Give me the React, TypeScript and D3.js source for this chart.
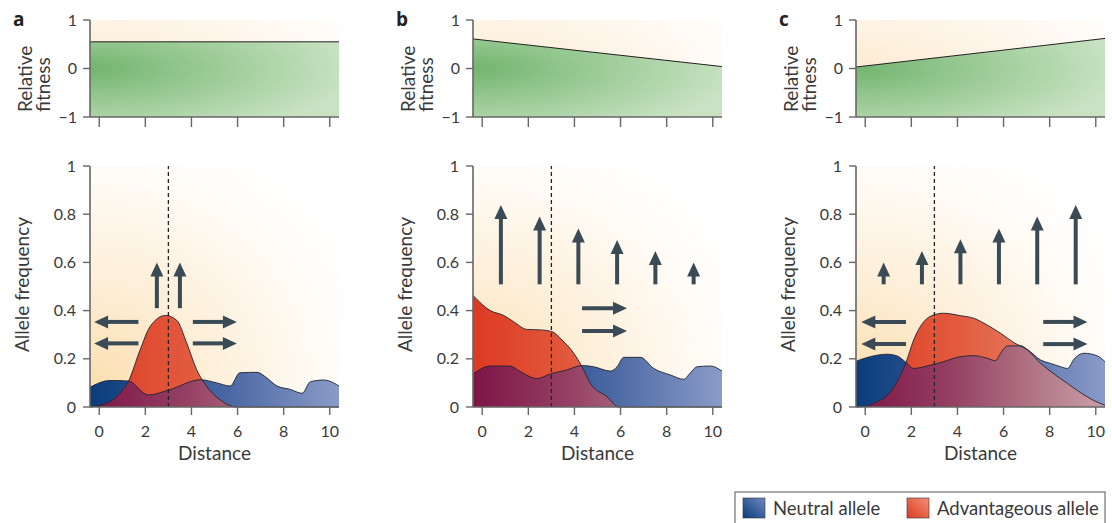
import React from 'react';
import * as d3 from 'd3';

// axis ticks
const distTicks = [0, 2, 4, 6, 8, 10];
const freqTicks = [0, 0.2, 0.4, 0.6, 0.8, 1];
const fitTicks = [-1, 0, 1];
const panelLabels = ['a', 'b', 'c'];

// relative fitness at the left and right ends of the range
const fitnessA = [0.55, 0.55];
const fitnessB = [0.61, 0.04];
const fitnessC = [0.03, 0.62];

// panel a: allele frequencies along distance
const neutralAX = [-0.4, 0.46, 1.26, 2.13, 3, 4.4, 5.1, 5.68, 6.1, 6.84, 7.28, 7.71, 8.29, 8.8, 9.16, 9.74, 10.17, 10.4];
const neutralAY = [0.082, 0.11, 0.108, 0.05, 0.07, 0.113, 0.1, 0.087, 0.142, 0.144, 0.12, 0.087, 0.073, 0.057, 0.105, 0.112, 0.1, 0.087];
const advantAX = [-0.4, 0.46, 0.9, 1.26, 1.77, 2.2, 2.88, 3.36, 3.8, 4.23, 4.67, 5.25, 5.97, 10.4];
const advantAY = [0, 0.022, 0.057, 0.105, 0.236, 0.333, 0.38, 0.36, 0.264, 0.154, 0.084, 0.029, 0, 0];

// panel b
const neutralBX = [-0.4, 0.35, 1.2, 1.65, 2.37, 2.95, 3.67, 4.33, 4.83, 5.56, 5.85, 6.14, 6.86, 7.44, 8.16, 8.74, 9.03, 9.32, 9.9, 10.4];
const neutralBY = [0.137, 0.17, 0.17, 0.147, 0.118, 0.137, 0.154, 0.172, 0.167, 0.149, 0.167, 0.206, 0.206, 0.16, 0.133, 0.115, 0.142, 0.167, 0.17, 0.149];
const advantBX = [-0.4, 0.35, 0.93, 1.36, 1.94, 2.52, 3.02, 3.46, 3.97, 4.33, 4.69, 5.41, 5.92, 10.4];
const advantBY = [0.463, 0.4, 0.38, 0.354, 0.322, 0.32, 0.313, 0.278, 0.223, 0.167, 0.098, 0.043, 0, 0];

// panel c
const neutralCX = [-0.4, 0.22, 0.94, 1.38, 1.77, 2.1, 2.68, 3.4, 4.13, 4.71, 5.29, 5.65, 5.87, 6.16, 6.74, 7.03, 7.61, 8.04, 8.48, 8.77, 9.06, 9.49, 10.07, 10.4];
const neutralCY = [0.19, 0.209, 0.219, 0.212, 0.185, 0.16, 0.17, 0.188, 0.209, 0.213, 0.202, 0.192, 0.223, 0.253, 0.254, 0.239, 0.195, 0.181, 0.167, 0.16, 0.199, 0.223, 0.212, 0.188];
const advantCX = [-0.4, 0.07, 0.51, 0.94, 1.38, 1.77, 2.1, 2.54, 2.97, 3.4, 4.13, 4.71, 5.29, 5.87, 6.45, 7.03, 7.61, 8.19, 8.77, 9.35, 9.93, 10.4];
const advantCY = [0, 0.004, 0.022, 0.046, 0.105, 0.185, 0.278, 0.354, 0.382, 0.389, 0.379, 0.368, 0.34, 0.306, 0.267, 0.237, 0.181, 0.137, 0.098, 0.059, 0.026, 0.007];

// selection arrows (up) and migration arrows (sideways)
const upXA = [2.5, 3.5];
const upTipA = [0.6, 0.6];
const upBaseA = 0.41;
const upXB = [0.81, 2.49, 4.17, 5.85, 7.51, 9.17];
const upTipB = [0.838, 0.79, 0.741, 0.693, 0.647, 0.6];
const upXC = [0.8, 2.46, 4.13, 5.8, 7.46, 9.13];
const upTipC = [0.6, 0.647, 0.696, 0.741, 0.79, 0.838];
const upBaseBC = 0.509;

const sideYA = [0.353, 0.264];
const sideYB = [0.41, 0.315];
const sideYC = [0.353, 0.261];

const contactPoint = 3;

const zip = (xs: number[], ys: number[]) => xs.map((v, i) => [v, ys[i]] as [number, number]);

const panels = [
  {
    fitness: fitnessA,
    neutral: zip(neutralAX, neutralAY),
    advant: zip(advantAX, advantAY),
    up: upXA.map((v, i) => ({ x: v, base: upBaseA, tip: upTipA[i] })),
    side: [
      ...sideYA.map(v => ({ y: v, from: 1.7, to: -0.22 })),
      ...sideYA.map(v => ({ y: v, from: 4.06, to: 5.97 })),
    ],
  },
  {
    fitness: fitnessB,
    neutral: zip(neutralBX, neutralBY),
    advant: zip(advantBX, advantBY),
    up: upXB.map((v, i) => ({ x: v, base: upBaseBC, tip: upTipB[i] })),
    side: sideYB.map(v => ({ y: v, from: 4.33, to: 6.28 })),
  },
  {
    fitness: fitnessC,
    neutral: zip(neutralCX, neutralCY),
    advant: zip(advantCX, advantCY),
    up: upXC.map((v, i) => ({ x: v, base: upBaseBC, tip: upTipC[i] })),
    side: [
      ...sideYC.map(v => ({ y: v, from: 1.77, to: -0.17 })),
      ...sideYC.map(v => ({ y: v, from: 7.72, to: 9.64 })),
    ],
  },
];

const W = 249;
const topH = 97;
const botH = 241;
const panelX = [90, 473, 856];
const topY = 20;
const botY = 166;
const font = 'Lato, "Open Sans", sans-serif';
const textColor = '#3a3a3a';
const axisColor = '#666';
const arrowColor = '#3b4b56';

function Arrow({ x1, y1, x2, y2 }: { x1: number; y1: number; x2: number; y2: number }) {
  const len = Math.hypot(x2 - x1, y2 - y1);
  const ux = (x2 - x1) / len, uy = (y2 - y1) / len;
  const head = 14, half = 6.5;
  const bx = x2 - ux * head, by = y2 - uy * head;
  const pts = [
    [x2, y2],
    [bx - uy * half, by + ux * half],
    [bx + uy * half, by - ux * half],
  ];
  return (
    <g>
      <line x1={x1} y1={y1} x2={bx + ux} y2={by + uy} stroke={arrowColor} strokeWidth={4} />
      <polygon points={pts.map(p => p.join(',')).join(' ')} fill={arrowColor} />
    </g>
  );
}

export default function App() {
  const x = d3.scaleLinear().domain([-0.4, 10.4]).range([0, W]);
  const yFit = d3.scaleLinear().domain([-1, 1]).range([topH, 0]);
  const yFreq = d3.scaleLinear().domain([0, 1]).range([botH, 0]);

  const area = d3.area<[number, number]>()
    .x(d => x(d[0]))
    .y0(botH)
    .y1(d => yFreq(d[1]))
    .curve(d3.curveMonotoneX);
  const line = d3.line<[number, number]>()
    .x(d => x(d[0]))
    .y(d => yFreq(d[1]))
    .curve(d3.curveMonotoneX);
  const fitArea = d3.area<[number, number]>()
    .x(d => x(d[0]))
    .y0(topH)
    .y1(d => yFit(d[1]));
  const fitLine = d3.line<[number, number]>()
    .x(d => x(d[0]))
    .y(d => yFit(d[1]));

  return (
    <svg width={1112} height={523} style={{ position: 'absolute', left: 0, top: 0, background: '#fff' }}
      fontFamily={font}>
      <defs>
        <radialGradient id="fitBg" gradientUnits="userSpaceOnUse" cx={0} cy={0} r={1}
          gradientTransform={`translate(0,${topH / 2}) scale(${W * 1.1},${topH})`}>
          <stop offset="0" stopColor="#fdebd2" />
          <stop offset="1" stopColor="#fffdfa" />
        </radialGradient>
        <radialGradient id="green" gradientUnits="userSpaceOnUse" cx={0} cy={0} r={1}
          gradientTransform={`translate(0,${topH / 2}) scale(${W * 1.05},${topH * 0.75})`}>
          <stop offset="0" stopColor="#72b570" />
          <stop offset="0.5" stopColor="#9ecc98" />
          <stop offset="1" stopColor="#c8e2c3" />
        </radialGradient>
        <radialGradient id="freqBg" gradientUnits="userSpaceOnUse" cx={0} cy={0} r={1}
          gradientTransform={`translate(0,${botH * 0.9}) scale(${W * 1.2},${botH * 1.1})`}>
          <stop offset="0" stopColor="#fbdfb0" />
          <stop offset="0.4" stopColor="#fdefd9" />
          <stop offset="0.8" stopColor="#fffcf7" />
          <stop offset="1" stopColor="#ffffff" />
        </radialGradient>
        <linearGradient id="neutral" gradientUnits="userSpaceOnUse" x1={0} y1={0} x2={W} y2={0}>
          <stop offset="0" stopColor="#0a3c7c" />
          <stop offset="0.55" stopColor="#4a67a3" />
          <stop offset="1" stopColor="#8a9bc8" />
        </linearGradient>
        <linearGradient id="advant" gradientUnits="userSpaceOnUse" x1={0} y1={0} x2={W} y2={0}>
          <stop offset="0" stopColor="#dd3a22" />
          <stop offset="0.4" stopColor="#e25a3e" />
          <stop offset="1" stopColor="#ec9478" />
        </linearGradient>
        <linearGradient id="overlap" gradientUnits="userSpaceOnUse" x1={0} y1={0} x2={W} y2={0}>
          <stop offset="0" stopColor="#7e1447" />
          <stop offset="0.4" stopColor="#964265" />
          <stop offset="0.7" stopColor="#b07383" />
          <stop offset="1" stopColor="#c9a0a8" />
        </linearGradient>
        <linearGradient id="swatchBlue" x1="0" y1="1" x2="1" y2="0">
          <stop offset="0" stopColor="#0a3c7c" />
          <stop offset="1" stopColor="#6f88bd" />
        </linearGradient>
        <linearGradient id="swatchRed" x1="0" y1="1" x2="1" y2="0">
          <stop offset="0" stopColor="#dd3a22" />
          <stop offset="1" stopColor="#f09075" />
        </linearGradient>
        {panels.map((p, i) => (
          <clipPath id={`neutralClip${i}`} key={i}>
            <path d={area(p.neutral) || ''} />
          </clipPath>
        ))}
      </defs>

      {panels.map((p, i) => {
        const fitPts: [number, number][] = [[-0.4, p.fitness[0]], [10.4, p.fitness[1]]];
        return (
          <g key={i}>
            <text x={panelX[i] - 77} y={26} fontSize={19} fontWeight={700} fill="#222"
              fontFamily='"Open Sans", sans-serif'>{panelLabels[i]}</text>

            {/* relative fitness */}
            <g transform={`translate(${panelX[i]},${topY})`}>
              <rect x={0} y={0} width={W} height={topH} fill="url(#fitBg)" />
              <path d={fitArea(fitPts) || ''} fill="url(#green)" />
              <path d={fitLine(fitPts) || ''} fill="none" stroke="#222" strokeWidth={1} />
              <line x1={0} x2={0} y1={0} y2={topH} stroke={axisColor} strokeWidth={1.6} />
              <line x1={0} x2={W} y1={topH} y2={topH} stroke={axisColor} strokeWidth={1.6} />
              {fitTicks.map(t => (
                <g key={t} transform={`translate(0,${yFit(t)})`}>
                  <line x1={-7} x2={0} stroke={axisColor} strokeWidth={1.4} />
                  <text x={-13} dy="0.35em" textAnchor="end" fontSize={16} fill={textColor}>
                    {t < 0 ? `\u2212${-t}` : t}
                  </text>
                </g>
              ))}
              {distTicks.map(t => (
                <line key={t} x1={x(t)} x2={x(t)} y1={topH} y2={topH + 10} stroke={axisColor} strokeWidth={1.4} />
              ))}
              <text transform={`translate(-58,92) rotate(-90)`} fontSize={19} fill={textColor}>Relative</text>
              <text transform={`translate(-40,92) rotate(-90)`} fontSize={19} fill={textColor}>fitness</text>
            </g>

            {/* allele frequency */}
            <g transform={`translate(${panelX[i]},${botY})`}>
              <rect x={0} y={0} width={W} height={botH} fill="url(#freqBg)" />
              <path d={area(p.neutral) || ''} fill="url(#neutral)" />
              <path d={area(p.advant) || ''} fill="url(#advant)" />
              <path d={area(p.advant) || ''} fill="url(#overlap)" clipPath={`url(#neutralClip${i})`} />
              <path d={line(p.neutral) || ''} fill="none" stroke="#1e2230" strokeWidth={0.9} />
              <path d={line(p.advant) || ''} fill="none" stroke="#1e2230" strokeWidth={0.9} />
              <line x1={x(contactPoint)} x2={x(contactPoint)} y1={yFreq(0)} y2={yFreq(1)}
                stroke="#222" strokeWidth={1.3} strokeDasharray="4,3" />
              {p.up.map((a, k) => (
                <Arrow key={`u${k}`} x1={x(a.x)} y1={yFreq(a.base)} x2={x(a.x)} y2={yFreq(a.tip)} />
              ))}
              {p.side.map((a, k) => (
                <Arrow key={`s${k}`} x1={x(a.from)} y1={yFreq(a.y)} x2={x(a.to)} y2={yFreq(a.y)} />
              ))}
              <line x1={0} x2={0} y1={0} y2={botH} stroke={axisColor} strokeWidth={1.6} />
              <line x1={0} x2={W} y1={botH} y2={botH} stroke={axisColor} strokeWidth={1.6} />
              {freqTicks.map(t => (
                <g key={t} transform={`translate(0,${yFreq(t)})`}>
                  <line x1={-7} x2={0} stroke={axisColor} strokeWidth={1.4} />
                  <text x={-14} dy="0.35em" textAnchor="end" fontSize={16} fill={textColor}>{t}</text>
                </g>
              ))}
              {distTicks.map(t => (
                <g key={t} transform={`translate(${x(t)},${botH})`}>
                  <line y1={0} y2={8} stroke={axisColor} strokeWidth={1.4} />
                  <text y={30} textAnchor="middle" fontSize={16} fill={textColor}>{t}</text>
                </g>
              ))}
              <text x={W / 2} y={294} textAnchor="middle" fontSize={19} fill={textColor}>Distance</text>
              <text transform={`translate(-61,${botH / 2 - 2}) rotate(-90)`} textAnchor="middle"
                fontSize={19} fill={textColor}>Allele frequency</text>
            </g>
          </g>
        );
      })}

      {/* legend */}
      <g>
        <rect x={735} y={492} width={370} height={40} fill="#fff" stroke="#555" strokeWidth={1} />
        <rect x={743} y={498} width={22} height={20} fill="url(#swatchBlue)" stroke="#333" strokeWidth={0.6} />
        <text x={773} y={515} fontSize={18.5} fill={textColor}>Neutral allele</text>
        <rect x={907} y={498} width={22} height={20} fill="url(#swatchRed)" stroke="#333" strokeWidth={0.6} />
        <text x={937} y={515} fontSize={18.5} fill={textColor}>Advantageous allele</text>
      </g>
    </svg>
  );
}
